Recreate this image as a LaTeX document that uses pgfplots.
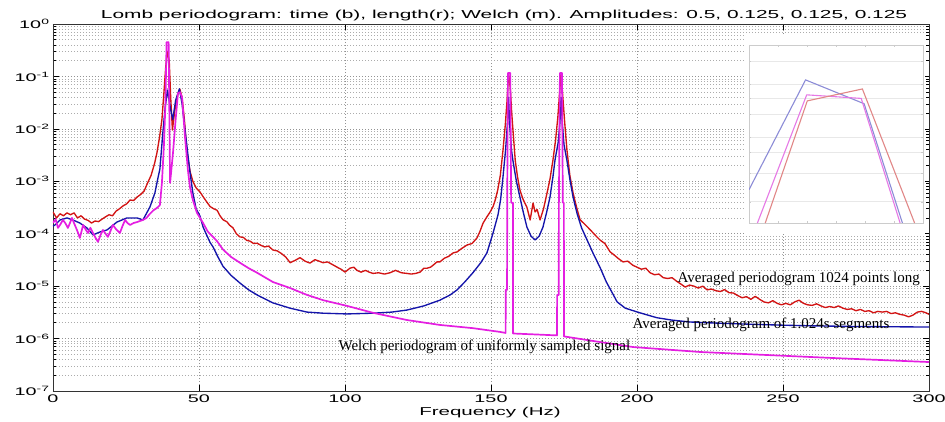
\documentclass[border=0pt]{standalone}
\usepackage{fontspec}
\setmainfont{Liberation Serif}
\newfontfamily\mat[FakeStretch=1.8]{Liberation Sans}
\usepackage{pgfplots}
\pgfplotsset{compat=1.18}
\definecolor{cred}{RGB}{210,20,20}
\definecolor{cblue}{RGB}{20,20,170}
\definecolor{cmag}{RGB}{228,30,225}
\definecolor{iblue}{RGB}{140,140,215}
\definecolor{imag}{RGB}{230,120,230}
\definecolor{ired}{RGB}{225,135,135}
\begin{document}
\begin{tikzpicture}
\begin{axis}[name=main, at={(0,0)}, anchor=south west, scale only axis,
  width=876pt, height=367pt,
  xmin=0, xmax=300, ymode=log, ymin=1e-7, ymax=1,
  xtick={0,50,100,150,200,250,300}, xticklabels={0,50,100,150,200,250,300},
  ytick={1e-7,1e-6,1e-5,1e-4,1e-3,1e-2,1e-1,1},
  yticklabels={10\textsuperscript{-7},10\textsuperscript{-6},10\textsuperscript{-5},10\textsuperscript{-4},10\textsuperscript{-3},10\textsuperscript{-2},10\textsuperscript{-1},10\textsuperscript{0}},
  minor ytick={2e-7,3e-7,4e-7,5e-7,6e-7,7e-7,8e-7,9e-7,
    2e-6,3e-6,4e-6,5e-6,6e-6,7e-6,8e-6,9e-6,
    2e-5,3e-5,4e-5,5e-5,6e-5,7e-5,8e-5,9e-5,
    2e-4,3e-4,4e-4,5e-4,6e-4,7e-4,8e-4,9e-4,
    2e-3,3e-3,4e-3,5e-3,6e-3,7e-3,8e-3,9e-3,
    2e-2,3e-2,4e-2,5e-2,6e-2,7e-2,8e-2,9e-2,
    0.2,0.3,0.4,0.5,0.6,0.7,0.8,0.9},
  grid=both,
  major grid style={gray!85, line width=0.6pt, dash pattern=on 0.8pt off 2.2pt},
  minor grid style={gray!65, line width=0.6pt, dash pattern=on 0.8pt off 2.2pt},
  ticklabel style={font=\mat\fontsize{11}{13}\selectfont, text=black},
  major tick length=6pt, minor tick length=3.5pt,
  tick style={black, line width=0.6pt},
  axis line style={black!80, line width=0.8pt},
  every axis plot/.append style={line join=round},
]
% red: averaged periodogram 1024 points long
\addplot[cred, line width=1.35pt] coordinates {
(0,2.6e-4)(1.2,2.0e-4)(2.4,2.4e-4)(3.6,2.2e-4)(4.8,2.5e-4)(6.0,2.3e-4)(7.2,2.5e-4)(8.4,2.0e-4)
(9.6,2.2e-4)(10.8,1.9e-4)(12.0,1.8e-4)(13.2,1.6e-4)(14.4,1.75e-4)(15.6,1.7e-4)(16.8,1.9e-4)
(18.0,2.1e-4)(19.2,2.3e-4)(20.4,2.2e-4)(21.6,2.7e-4)(22.8,3.0e-4)(24.0,3.4e-4)(25.2,3.7e-4)
(26.4,4.4e-4)(27.6,4.3e-4)(28.8,5.0e-4)(30.0,5.6e-4)(31.2,6.5e-4)(32.4,9.3e-4)(33.6,1.3e-3)
(34.8,2.2e-3)(35.6,3.5e-3)(36.5,7e-3)(37.3,0.015)(38.0,0.05)(38.6,0.15)(39.2,0.3)(39.8,0.2)
(40.3,0.04)(40.9,0.0095)(41.6,0.02)(42.4,0.04)(43.4,0.058)(44.2,0.04)(45.0,0.015)(45.9,3.5e-3)
(47.0,1.5e-3)(47.9,1.0e-3)(49.0,7.5e-4)(50.3,6.3e-4)(51.5,5.0e-4)(52.7,4.0e-4)(53.8,3.3e-4)
(55.0,3.0e-4)(56.2,2.8e-4)(57.2,2.2e-4)(58.2,1.85e-4)(59.5,1.7e-4)(60.5,1.45e-4)(61.6,1.3e-4)
(62.8,1.0e-4)(64.0,8.7e-5)(65.2,8.5e-5)(66.3,7.5e-5)(67.5,7.2e-5)(68.7,6.5e-5)(69.9,6.6e-5)
(71.2,6.0e-5)(72.5,5.6e-5)(73.8,5.8e-5)(75.3,4.9e-5)(76.8,4.7e-5)(78.2,4.2e-5)(79.7,3.6e-5)
(81.2,2.8e-5)(82.9,3.1e-5)(84.6,3.5e-5)(86.3,3.0e-5)(88.0,2.75e-5)(89.7,3.2e-5)(91.1,3.0e-5)
(92.5,2.8e-5)(94.0,2.9e-5)(95.6,2.6e-5)(97.3,2.3e-5)(98.7,2.1e-5)(100.0,1.85e-5)(101.7,2.2e-5)
(103.0,2.3e-5)(104.1,2.0e-5)(105.5,1.85e-5)(107.0,2.0e-5)(108.3,1.85e-5)(109.6,1.75e-5)
(111.5,1.8e-5)(113.5,1.7e-5)(115.4,1.8e-5)(117.3,2.0e-5)(119.3,1.8e-5)(121.2,1.75e-5)
(122.7,1.7e-5)(124.2,1.75e-5)(125.7,1.85e-5)(127.0,2.2e-5)(128.1,2.2e-5)(129.3,2.3e-5)
(130.5,2.6e-5)(131.5,2.9e-5)(132.5,2.9e-5)(134,3.4e-5)(135.5,3.7e-5)(137.0,4.3e-5)(138.4,4.5e-5)
(139.9,5.2e-5)(141.8,6.1e-5)(143.5,6.5e-5)(145.2,8.3e-5)(146.2,1.1e-4)(147.3,1.6e-4)(148.6,2.1e-4)
(149.7,2.6e-4)(150.7,3.3e-4)(151.5,4.5e-4)(152.3,6.8e-4)(153.2,1.3e-3)(154.1,3.9e-3)(154.9,0.012)
(155.5,0.035)(156.0,0.116)(156.6,0.06)(157.1,0.02)(157.6,0.0083)(158.3,2.5e-3)(159.1,1.2e-3)
(159.9,6.8e-4)(161.0,4.5e-4)(162.3,3.2e-4)(163.4,1.83e-4)(164.4,3.85e-4)(165.1,2.6e-4)(165.8,2.9e-4)
(166.8,1.83e-4)(168.0,3.0e-4)(169.2,6.0e-4)(170.2,1.1e-3)(171.2,2.5e-3)(172.1,6e-3)(172.9,0.017)
(173.5,0.05)(174.0,0.116)(174.6,0.04)(175.3,0.012)(176.0,4.0e-3)(177.0,1.3e-3)(178.1,6.0e-4)
(179.3,3.2e-4)(180.5,1.85e-4)(182.2,1.5e-4)(183.9,1.2e-4)(185.6,9.5e-5)(187.3,7.6e-5)(189,6.5e-5)
(190.8,4.5e-5)(192,4.0e-5)(193.5,3.4e-5)(195.2,2.9e-5)(196.8,3.0e-5)(198.6,2.5e-5)(200.0,2.3e-5)
(201.5,2.1e-5)(203.0,2.2e-5)(204.5,1.8e-5)(206.0,1.65e-5)(207.5,1.7e-5)(209.0,1.45e-5)(210.5,1.4e-5)
(212.0,1.45e-5)(213.5,1.25e-5)(215.0,1.1e-5)(216.5,9.6e-6)(218.0,1.05e-5)(219.5,1.0e-5)(221.0,9.2e-6)
(222.5,1.0e-5)(224.0,8.5e-6)(225.5,8.8e-6)(227.0,8.2e-6)(228.5,7.9e-6)(230.0,8.6e-6)(231.5,7.5e-6)
(233.0,7.4e-6)(234.5,6.6e-6)(236.0,6.0e-6)(237.5,6.3e-6)(239.0,5.6e-6)(240.5,6.4e-6)(242.0,5.6e-6)
(243.5,5.0e-6)(245.0,4.8e-6)(246.5,5.3e-6)(248.0,4.7e-6)(249.5,4.4e-6)(251.0,4.7e-6)(252.5,4.4e-6)
(254.0,5.0e-6)(255.5,5.4e-6)(257.0,4.7e-6)(258.5,4.4e-6)(260.0,4.3e-6)(261.5,4.6e-6)(263.0,4.2e-6)
(264.5,3.9e-6)(266.0,4.1e-6)(267.5,3.9e-6)(269.0,4.2e-6)(270.5,3.8e-6)(272.0,3.6e-6)(273.5,3.7e-6)
(275.0,3.4e-6)(276.5,3.6e-6)(278.0,3.3e-6)(279.5,3.4e-6)(281.0,3.1e-6)(282.5,3.3e-6)(284.0,3.2e-6)
(285.5,3.3e-6)(287.0,3.0e-6)(288.5,3.1e-6)(290.0,2.9e-6)(291.5,2.8e-6)(293.0,2.6e-6)(294.5,2.8e-6)
(296.0,3.2e-6)(297.5,3.3e-6)(299.0,3.1e-6)(300,2.9e-6)
};
% blue: averaged periodogram of 1.024 s segments
\addplot[cblue, line width=1.35pt] coordinates {
(0,1.4e-4)(0.7,1.47e-4)(2.4,1.83e-4)(4.8,2.0e-4)(6.8,1.83e-4)(9.2,1.6e-4)(11.6,1.29e-4)(13.7,9.5e-5)
(16.1,1.08e-4)(18.5,1.18e-4)(21.9,1.67e-4)(25.3,2.0e-4)(28.8,2.0e-4)(30.8,1.83e-4)(33.2,3.24e-4)
(34.9,6.0e-4)(36.0,1.2e-3)(36.6,1.7e-3)(37.7,9.5e-3)(38.4,0.025)(39.2,0.055)(40.2,0.025)(41.0,0.015)
(42.0,0.035)(43.3,0.058)(44.2,0.03)(45.0,0.012)(45.9,4.5e-3)(46.9,1.5e-3)(47.9,6.0e-4)(49.0,3.0e-4)
(50.3,2.2e-4)(51.4,1.34e-4)(52.6,9.5e-5)(53.8,6.8e-5)(54.8,5.6e-5)(56.5,3.6e-5)(58.2,2.4e-5)
(61,1.6e-5)(64.0,1.15e-5)(67,8.5e-6)(69.9,6.8e-6)(75.3,4.8e-6)(81.2,3.8e-6)(87.0,3.2e-6)
(92.5,3.05e-6)(100.7,2.95e-6)(109.6,3.05e-6)(116,3.2e-6)(121.2,3.5e-6)(127,4.2e-6)(132.5,5.4e-6)
(136,6.8e-6)(138.4,8.5e-6)(141,1.2e-5)(143.8,1.8e-5)(146.5,2.8e-5)(148.6,4.3e-5)(150.7,1.03e-4)
(152.4,2.3e-4)(153.3,4.5e-4)(154.1,1.2e-3)(155.0,4.0e-3)(155.6,0.012)(156.0,0.04)(156.4,0.012)
(157.0,4.0e-3)(157.5,2.5e-3)(158.7,1.0e-3)(159.9,5.0e-4)(161.1,2.5e-4)(162.3,1.34e-4)(163.7,9.0e-5)
(165.1,7.6e-5)(166.5,9.0e-5)(167.8,1.34e-4)(169.0,2.5e-4)(170.2,5.0e-4)(171.2,1.2e-3)(171.9,2.5e-3)
(173.0,5.5e-3)(173.6,0.013)(174.0,0.04)(174.4,0.013)(175.0,5.0e-3)(176.0,2.5e-3)(177.0,1.1e-3)
(178.1,5.0e-4)(179.5,2.4e-4)(181.0,1.3e-4)(182.9,7.6e-5)(185,4.2e-5)(187.3,2.3e-5)(189.5,1.2e-5)
(191.5,7.5e-6)(193.2,5.0e-6)(196,3.8e-6)(201.0,3.1e-6)(206.8,2.5e-6)(212,2.25e-6)(218.2,2.07e-6)
(229.5,1.95e-6)(238.7,1.88e-6)(250,1.8e-6)(260,1.75e-6)(275,1.7e-6)(300,1.66e-6)
};
% magenta: Welch periodogram
\addplot[cmag, line width=1.7pt] coordinates {
(0,1.6e-4)(0.9,1.9e-4)(1.7,1.29e-4)(2.5,1.5e-4)(3.4,1.83e-4)(4.2,1.6e-4)(5.1,1.29e-4)(5.8,1.6e-4)
(6.5,2.0e-4)(7.4,1.5e-4)(8.2,1.18e-4)(9.2,8.3e-5)(10.3,1.47e-4)(11.2,1.2e-4)(12.0,1.03e-4)
(12.8,1.3e-4)(13.7,1.03e-4)(14.5,8.5e-5)(15.4,7.0e-5)(16.3,9.5e-5)(17.1,1.18e-4)(18.0,1.0e-4)
(18.8,8.7e-5)(19.6,1.1e-4)(20.5,1.47e-4)(21.7,1.2e-4)(22.9,1.03e-4)(23.8,1.4e-4)(24.7,1.83e-4)
(25.5,1.6e-4)(26.4,1.47e-4)(27.6,1.6e-4)(28.8,1.67e-4)(29.8,1.75e-4)(30.8,1.83e-4)(32.0,2.0e-4)
(33.2,2.4e-4)(34.4,2.8e-4)(35.6,3.1e-4)(36.6,3.5e-4)(37.3,9.3e-4)(38.0,5e-3)(38.5,0.03)(38.9,0.45)
(39.6,0.45)(40.1,9.3e-4)(41.1,3.5e-3)(42.0,0.015)(42.8,0.048)(43.5,0.05)(44.2,0.04)(45.2,7.0e-3)
(46.2,1.64e-3)(46.9,7.8e-4)(47.9,4.4e-4)(49.3,2.5e-4)(51.4,1.6e-4)(53.0,1.1e-4)(54.8,8.7e-5)
(56.2,7.2e-5)(58.2,5.0e-5)(61,3.6e-5)(64.0,2.8e-5)(67,2.2e-5)(69.9,1.8e-5)(75.3,1.2e-5)(81.2,9.2e-6)
(87.0,6.8e-6)(92.5,5.4e-6)(100.7,4.2e-6)(109.6,3.1e-6)(121.2,2.26e-6)(132.5,1.82e-6)(143.8,1.58e-6)
(153.1,1.34e-6)(155.0,1.28e-6)
(155.05,8.5e-6)(155.5,8.5e-6)(155.55,3.9e-4)(155.8,0.116)(156.6,0.116)(156.9,3.9e-4)(157.5,3.9e-4)(157.55,1.25e-6)
(165,1.2e-6)(172.6,1.15e-6)
(172.65,6.8e-6)(173.2,6.8e-6)(173.25,3.9e-4)(173.6,0.116)(174.3,0.116)(174.6,3.9e-4)(174.95,3.9e-4)(175.0,1.1e-6)
(187.3,8.6e-7)(198.6,6.9e-7)(221.6,5.55e-7)(244.5,4.86e-7)(267.1,4.26e-7)(300,3.57e-7)
};
\node[anchor=base west, font=\fontsize{15}{18}\selectfont] at (axis cs:212.7,1.15e-5) {Averaged periodogram 1024 points long};
\node[anchor=base west, font=\fontsize{15}{18}\selectfont] at (axis cs:197.3,1.59e-6) {Averaged periodogram of 1.024s segments};
\node[anchor=base west, font=\fontsize{15}{18}\selectfont] at (axis cs:96.6,5.8e-7) {Welch periodogram of uniformly sampled signal};
\end{axis}
\node[font=\mat\fontsize{11.6}{13}\selectfont, anchor=base] at ([shift={(451pt,372pt)}]main.south west) {Lomb periodogram: time (b), length(r); Welch (m). Amplitudes: 0.5, 0.125, 0.125, 0.125};
\node[font=\mat\fontsize{11.4}{13}\selectfont, anchor=base] at ([shift={(437pt,-24pt)}]main.south west) {Frequency (Hz)};
\fill[white] ([shift={(692pt,157pt)}]main.south west) rectangle ([shift={(872pt,356pt)}]main.south west);
\coordinate (insw) at ([shift={(696pt,168pt)}]main.south west);
\begin{axis}[at={(insw)}, anchor=south west, scale only axis,
  width=174pt, height=178pt, xmin=0, xmax=6, ymin=0, ymax=1,
  xtick={0,1,2,3,4,5,6}, xticklabels={}, ytick={0.12,0.28,0.40,0.48,0.61,0.70,0.78,0.91}, yticklabels={},
  ymajorgrids, major grid style={gray!18, line width=0.5pt},
  axis line style={gray!40, line width=0.5pt}, tick style={gray!40}, major tick length=2pt]
\addplot[iblue, line width=1.1pt] coordinates {(0,0.187)(1.95,0.804)(3.97,0.67)(5.29,0)};
\addplot[imag, line width=1.1pt] coordinates {(0.29,0)(1.99,0.72)(3.87,0.70)(5.21,0)};
\addplot[ired, line width=1.1pt] coordinates {(0.56,0)(2.01,0.686)(3.91,0.753)(5.71,0)};
\end{axis}
\pgfresetboundingbox
\path[use as bounding box] ([shift={(-53pt,-30pt)}]main.south west) rectangle ([shift={(892pt,391pt)}]main.south west);
\end{tikzpicture}
\end{document}
